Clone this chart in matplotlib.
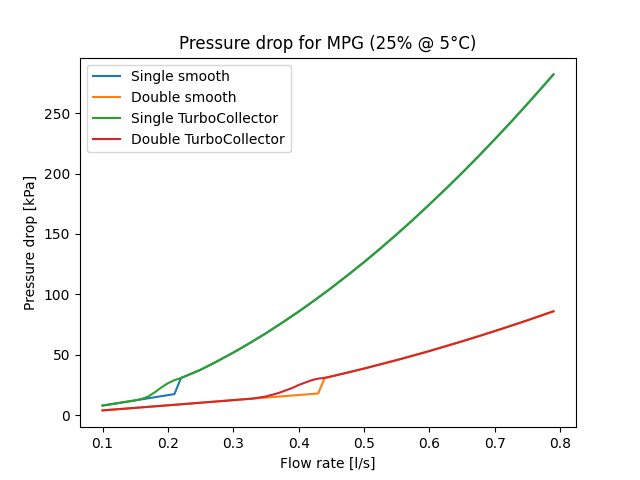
import numpy as np
import matplotlib.pyplot as plt

# flow rate [l/s] and pressure drop [kPa]
turb_x = [0.25, 0.275, 0.3, 0.325, 0.35, 0.375, 0.4, 0.425, 0.45, 0.475, 0.5, 0.525,
          0.55, 0.575, 0.6, 0.625, 0.65, 0.675, 0.7, 0.725, 0.75, 0.775, 0.79]
single_turb = [37.6, 44.5, 51.8, 59.6, 67.8, 76.6, 85.7, 95.3, 105.3, 115.8, 126.6, 137.9,
               149.6, 161.7, 174.3, 187.2, 200.4, 214.1, 228.2, 242.6, 257.5, 272.7, 282.0]
double_turb_x = [0.45, 0.475, 0.5, 0.525, 0.55, 0.575, 0.6, 0.625, 0.65, 0.675, 0.7,
                 0.725, 0.75, 0.775, 0.79]
double_turb = [32.1, 35.3, 38.6, 42.1, 45.6, 49.3, 53.1, 57.1, 61.1, 65.3, 69.6,
               74.0, 78.5, 83.2, 86.0]

single_smooth_x = [0.1, 0.15, 0.21, 0.22] + turb_x
single_smooth = [8.0, 12.3, 17.5, 30.8] + single_turb

single_tc_x = [0.1, 0.15, 0.16, 0.17, 0.18, 0.19, 0.2, 0.21, 0.22] + turb_x
single_tc = [8.0, 12.3, 13.5, 15.5, 19.0, 23.0, 26.5, 29.0, 30.8] + single_turb

double_smooth_x = [0.1, 0.2, 0.3, 0.35, 0.43, 0.44] + double_turb_x
double_smooth = [4.0, 8.2, 12.5, 14.6, 18.0, 30.9] + double_turb

double_tc_x = [0.1, 0.2, 0.3, 0.33, 0.35, 0.37, 0.39, 0.4, 0.41, 0.42, 0.43, 0.44] + double_turb_x
double_tc = [4.0, 8.2, 12.5, 13.8, 15.5, 18.5, 22.5, 25.0, 27.0, 29.0, 30.3, 30.9] + double_turb

plt.figure(figsize=(6.4, 4.8), dpi=100)
plt.plot(single_smooth_x, single_smooth, label='Single smooth')
plt.plot(double_smooth_x, double_smooth, label='Double smooth')
plt.plot(single_tc_x, single_tc, label='Single TurboCollector')
plt.plot(double_tc_x, double_tc, label='Double TurboCollector')
plt.title('Pressure drop for MPG (25% @ 5°C)')
plt.xlabel('Flow rate [l/s]')
plt.ylabel('Pressure drop [kPa]')
plt.legend(loc='upper left')
plt.savefig('out.png', format='png')
plt.close()
